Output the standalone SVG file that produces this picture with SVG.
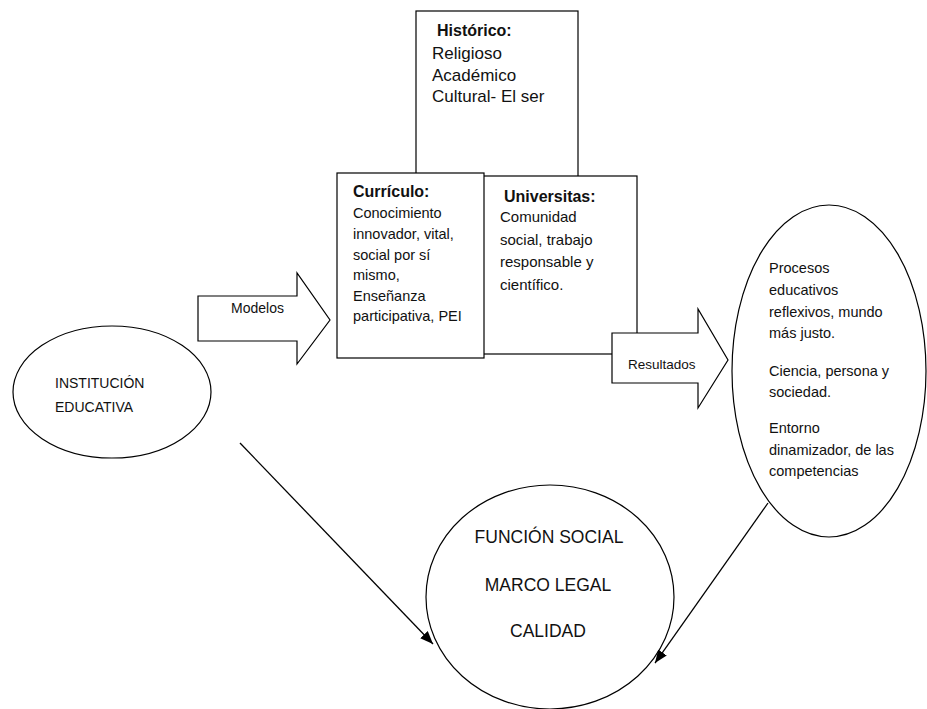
<svg xmlns="http://www.w3.org/2000/svg" width="927" height="709" viewBox="0 0 927 709">
<style>
.s{fill:#fff;stroke:#000;stroke-width:1.2}
.t{font-family:"Liberation Sans",Arial,sans-serif;fill:#111}
.b{font-weight:bold}
.c{stroke:#000;stroke-width:1.3;fill:none}
</style>
<defs>
<marker id="ah" viewBox="0 0 10 10" refX="10" refY="5" markerWidth="13" markerHeight="13" markerUnits="userSpaceOnUse" orient="auto">
<path d="M0,1 L10,5 L0,9 Z" fill="#000"/>
</marker>
</defs>
<rect width="927" height="709" fill="#fff"/>

<g id="historico">
<rect class="s" x="416" y="11" width="162" height="170"/>
<text class="t b" x="437" y="36" font-size="16">Histórico:</text>
<text class="t" font-size="17"><tspan x="432" y="59">Religioso</tspan><tspan x="432" y="81">Académico</tspan><tspan x="432" y="102">Cultural- El ser</tspan></text>
</g>

<g id="universitas">
<rect class="s" x="470" y="176" width="167" height="178"/>
<text class="t b" x="504" y="202" font-size="16">Universitas:</text>
<text class="t" font-size="15"><tspan x="500" y="222">Comunidad</tspan><tspan x="500" y="245">social, trabajo</tspan><tspan x="500" y="267">responsable y</tspan><tspan x="500" y="290">científico.</tspan></text>
</g>

<g id="curriculo">
<rect class="s" x="337" y="173" width="147" height="185"/>
<text class="t b" x="353" y="197" font-size="16">Currículo:</text>
<text class="t" font-size="14.5"><tspan x="353" y="218">Conocimiento</tspan><tspan x="353" y="239">innovador, vital,</tspan><tspan x="353" y="260">social por sí</tspan><tspan x="353" y="280">mismo,</tspan><tspan x="353" y="301">Enseñanza</tspan><tspan x="353" y="321">participativa, PEI</tspan></text>
</g>

<g id="modelos">
<path class="s" d="M198,296 H297 V273 L330,320 L297,364 V341 H198 Z"/>
<text class="t" x="231" y="313" font-size="14">Modelos</text>
</g>

<g id="resultados">
<path class="s" d="M612,333 H698 V309 L728,360 L698,408 V383 H612 Z"/>
<text class="t" x="628" y="369" font-size="13.5">Resultados</text>
</g>

<g id="institucion">
<ellipse class="s" cx="112" cy="392" rx="99" ry="66"/>
<text class="t" font-size="14"><tspan x="55" y="388">INSTITUCIÓN</tspan><tspan x="55" y="412">EDUCATIVA</tspan></text>
</g>

<g id="procesos">
<ellipse class="s" cx="829" cy="371" rx="97" ry="166"/>
<text class="t" font-size="14.5"><tspan x="769" y="273">Procesos</tspan><tspan x="769" y="295">educativos</tspan><tspan x="769" y="317">reflexivos, mundo</tspan><tspan x="769" y="338">más justo.</tspan><tspan x="769" y="376">Ciencia, persona y</tspan><tspan x="769" y="397">sociedad.</tspan><tspan x="769" y="433">Entorno</tspan><tspan x="769" y="455">dinamizador, de las</tspan><tspan x="769" y="476">competencias</tspan></text>
</g>

<g id="funcion">
<ellipse class="s" cx="550" cy="597" rx="124" ry="112"/>
<text class="t" font-size="17.5" text-anchor="middle"><tspan x="549" y="543">FUNCIÓN SOCIAL</tspan><tspan x="548" y="591">MARCO LEGAL</tspan><tspan x="548" y="637">CALIDAD</tspan></text>
</g>

<g id="connectors">
<line class="c" x1="240" y1="443" x2="433" y2="644" marker-end="url(#ah)"/>
<line class="c" x1="768" y1="503" x2="655" y2="663" marker-end="url(#ah)"/>
</g>
</svg>
